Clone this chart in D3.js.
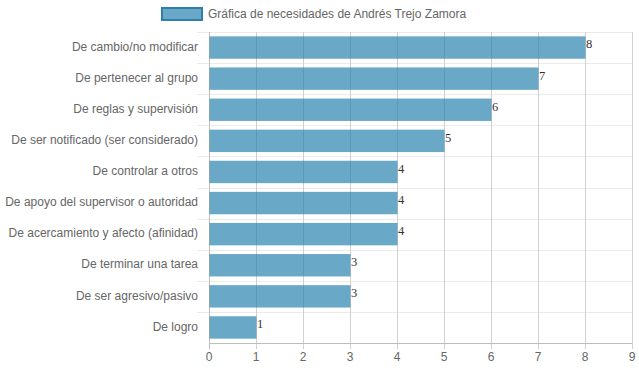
<!DOCTYPE html>
<html><head><meta charset="utf-8">
<script src="https://cdn.jsdelivr.net/npm/d3@7"></script>
<style>body{margin:0;background:#fff}svg{display:block}</style>
</head><body>
<svg id="c" width="639" height="372"></svg>
<script>
const categories = ["De cambio/no modificar","De pertenecer al grupo","De reglas y supervisión","De ser notificado (ser considerado)","De controlar a otros","De apoyo del supervisor o autoridad","De acercamiento y afecto (afinidad)","De terminar una tarea","De ser agresivo/pasivo","De logro"];
const values = [8,7,6,5,4,4,4,3,3,1];
const xTicks = [0,1,2,3,4,5,6,7,8,9];
const seriesName = "Gráfica de necesidades de Andrés Trejo Zamora";

const svg = d3.select("#c");
const font = "'Liberation Sans', Arial, sans-serif";
const m = {l:209, r:632, t:32, b:343};
const x = d3.scaleLinear().domain([0,9]).range([m.l, m.r]);
const y = d3.scaleBand().domain(categories).range([m.t, m.b]).paddingInner(0.28).paddingOuter(0.14);
const yRow = d3.scaleBand().domain(categories).range([m.t, m.b]);

// horizontal grid lines
const g = svg.append("g");
const rowEdges = categories.map(c => yRow(c));
g.selectAll("line.h").data(rowEdges).join("line")
  .attr("x1", m.l-12).attr("x2", m.r).attr("y1", d=>Math.round(d)+0.5).attr("y2", d=>Math.round(d)+0.5)
  .attr("stroke", "#ebebeb").attr("stroke-width", 1);
// vertical grid lines
g.selectAll("line.v").data(xTicks).join("line")
  .attr("x1", d=>Math.round(x(d))+0.5).attr("x2", d=>Math.round(x(d))+0.5)
  .attr("y1", m.t).attr("y2", m.b+6)
  .attr("stroke", d=> d===0 ? "#bdbdbd" : "#d0d0d0").attr("stroke-width", 1);
// bottom axis line
g.append("line").attr("x1", m.l).attr("x2", m.r).attr("y1", m.b+0.5).attr("y2", m.b+0.5).attr("stroke","#bdbdbd");

// bars
svg.append("g").selectAll("rect").data(values).join("rect")
  .attr("x", x(0)+0.5)
  .attr("y", (d,i)=>y(categories[i]))
  .attr("width", d=>x(d)-x(0))
  .attr("height", y.bandwidth())
  .attr("fill", "rgb(36,127,172)").attr("fill-opacity", 0.68);

// value labels
svg.append("g").selectAll("text").data(values).join("text")
  .attr("x", d=>x(d)+1)
  .attr("y", (d,i)=>y(categories[i])+y.bandwidth()/2 - 2)
  .attr("dominant-baseline","middle")
  .attr("font-family","'Liberation Serif', 'Times New Roman', serif")
  .attr("font-size", 12.5).attr("fill","#333")
  .text(d=>d);

// category labels
svg.append("g").selectAll("text").data(categories).join("text")
  .attr("x", 198).attr("y", d=>yRow(d)+yRow.bandwidth()/2)
  .attr("dominant-baseline","middle").attr("text-anchor","end")
  .attr("font-family", font).attr("font-size", 12).attr("fill","#666")
  .text(d=>d);

// x tick labels
svg.append("g").selectAll("text").data(xTicks).join("text")
  .attr("x", d=>x(d)).attr("y", 358)
  .attr("dominant-baseline","middle").attr("text-anchor","middle")
  .attr("font-family", font).attr("font-size", 12).attr("fill","#666")
  .text(d=>d);

// legend
const lg = svg.append("g");
lg.append("rect").attr("x", 162).attr("y", 8).attr("width", 40).attr("height", 12)
  .attr("fill","rgb(36,127,172)").attr("fill-opacity",0.68)
  .attr("stroke","#2f7fae").attr("stroke-width",2);
lg.append("text").attr("x", 208).attr("y", 14.5).attr("dominant-baseline","middle")
  .attr("font-family", font).attr("font-size", 12).attr("fill","#666").text(seriesName);
</script>
</body></html>
